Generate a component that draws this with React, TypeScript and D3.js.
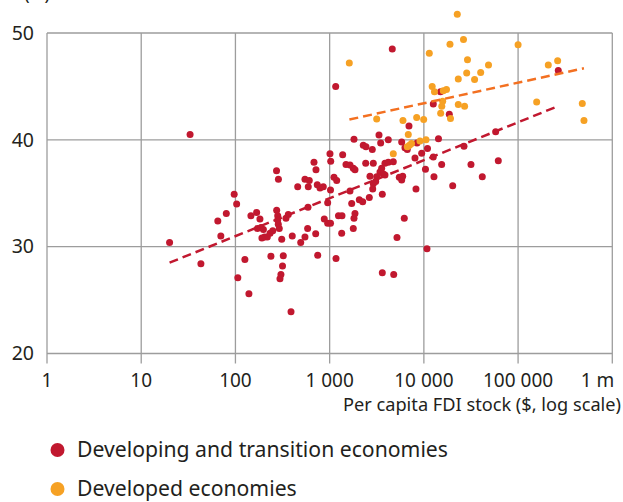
import React from 'react';
import * as d3 from 'd3';

// [per capita FDI stock ($), value (%)]
const developing: [number, number][] = [
  [20, 30.4], [33, 40.5], [43, 28.4], [65, 32.4], [80, 33.1], [70, 31.0], [97, 34.9], [103, 34.0],
  [126, 28.8], [106, 27.1], [139, 25.6], [146, 32.9], [168, 33.2], [171, 31.7], [187, 31.8], [198, 31.6],
  [182, 32.6], [204, 30.9], [218, 30.9], [191, 30.8], [233, 31.25], [249, 31.5], [273, 37.1], [286, 36.3],
  [274, 33.4], [281, 32.9], [281, 32.5], [292, 31.7], [285, 32.1], [344, 32.65], [364, 33.0], [310, 30.7],
  [401, 31.0], [238, 29.1], [322, 29.15], [316, 28.2], [304, 27.4], [297, 27.0], [389, 23.9], [458, 35.6],
  [547, 36.3], [608, 36.2], [593, 35.6], [739, 35.8], [790, 35.5], [856, 35.6], [682, 37.9], [716, 37.2],
  [1008, 38.7], [1026, 38.0], [1375, 38.6], [1491, 37.7], [1112, 36.5], [1188, 36.2], [1021, 35.3], [589, 33.7],
  [953, 34.1], [877, 32.6], [953, 32.2], [1021, 32.2], [1241, 32.9], [1352, 32.9], [584, 31.7], [547, 30.9],
  [493, 30.4], [711, 31.2], [1342, 31.25], [747, 29.2], [1168, 28.9], [1813, 40.05], [3340, 40.45], [3480, 39.7],
  [4193, 40.0], [5816, 39.8], [2275, 39.5], [2430, 39.35], [2835, 39.1], [6303, 39.26], [6668, 39.1], [8453, 39.7],
  [10928, 39.2], [14290, 40.1], [2413, 37.8], [2906, 37.8], [1644, 37.65], [1782, 37.35], [1857, 37.2], [3866, 37.8],
  [4193, 37.9], [4736, 37.95], [3566, 37.35], [3422, 37.0], [3710, 36.8], [8048, 38.3], [9480, 38.75], [12590, 38.4],
  [10400, 37.25], [12800, 36.55], [2680, 36.6], [3157, 36.55], [3866, 36.7], [5486, 36.5], [5816, 36.25], [5960, 36.6],
  [2906, 35.9], [2864, 35.4], [3081, 36.1], [8248, 35.4], [1644, 35.2], [3621, 34.9], [2635, 34.6], [2064, 34.4],
  [2243, 34.2], [1714, 34.05], [1857, 33.1], [1813, 32.65], [1782, 31.7], [6196, 32.65], [5185, 30.85], [10790, 29.8],
  [3621, 27.55], [4786, 27.4], [4620, 48.5], [1159, 45.0], [12590, 43.35], [15010, 44.5], [18620, 42.4], [6950, 41.3],
  [57810, 40.75], [267100, 46.5], [26660, 39.4], [61660, 38.05], [31620, 37.7], [41690, 36.55], [20230, 35.7], [15450, 37.7],
];

const developed: [number, number][] = [
  [22630, 51.75], [18930, 48.95], [26340, 49.4], [11420, 48.1], [1616, 47.2], [100000, 48.9], [29040, 47.5], [48530, 47.0],
  [40090, 46.3], [28480, 46.25], [23190, 45.7], [34530, 45.65], [209200, 47.0], [263000, 47.4], [12250, 45.0], [12960, 44.5],
  [16070, 44.6], [17380, 44.7], [15840, 43.6], [15490, 43.15], [15080, 42.5], [23190, 43.3], [27050, 43.15], [19170, 42.0],
  [157500, 43.55], [480200, 43.4], [500500, 41.8], [3157, 41.95], [6000, 41.8], [8390, 42.1], [9955, 41.9], [6834, 40.5],
  [7037, 39.5], [7390, 39.65], [6668, 39.35], [9095, 39.9], [10530, 40.0], [4736, 38.7],
];

const developingTrend: [number, number][] = [[20, 28.5], [257000, 43.1]];
const developedTrend: [number, number][] = [[1620, 41.9], [500000, 46.7]];

const xTicks = [1, 10, 100, 1000, 10000, 100000, 1000000];
const xTickLabels = ['1', '10', '100', '1 000', '10 000', '100 000', '1 m'];
const yTicks = [20, 30, 40, 50];
const xTitle = 'Per capita FDI stock ($, log scale)';
const yTitle = '(%)';
const seriesNames = ['Developing and transition economies', 'Developed economies'];

const RED = '#c1182f';
const ORANGE = '#f6a124';
const ORANGE_LINE = '#f37021';
const GRID = '#9d9d9d';
const TEXT = '#231f20';
const FONT = '"Noto Sans", sans-serif';

export default function App() {
  const left = 47, right = 612.3, top = 33, bottom = 353.5;
  const x = d3.scaleLog().domain([1, 1e6]).range([left, right]);
  const y = d3.scaleLinear().domain([20, 50]).range([bottom, top]);
  const line = d3.line<[number, number]>().x(d => x(d[0])).y(d => y(d[1]));

  return (
    <svg width={623} height={502} style={{ position: 'absolute', left: 0, top: 0, background: '#fff' }}
      fontFamily={FONT}>
      {/* grid */}
      {yTicks.map(t => (
        <line key={'gy' + t} x1={left} x2={right} y1={y(t)} y2={y(t)} stroke={GRID} strokeWidth={1.3} />
      ))}
      {xTicks.map(t => (
        <line key={'gx' + t} x1={x(t)} x2={x(t)} y1={top} y2={bottom + 10} stroke={GRID} strokeWidth={1.3} />
      ))}
      {/* y labels */}
      {yTicks.map(t => (
        <text key={'ly' + t} x={34} y={y(t)} dy="0.35em" textAnchor="end" fontSize={19.5} fill={TEXT}>{t}</text>
      ))}
      {/* x labels */}
      {xTicks.map((t, i) => (
        <text key={'lx' + t} x={i === xTicks.length - 1 ? x(t) + 2 : x(t)} y={387}
          textAnchor={i === xTicks.length - 1 ? 'end' : 'middle'} fontSize={19} fill={TEXT}>{xTickLabels[i]}</text>
      ))}
      <text x={621} y={411} textAnchor="end" fontSize={18.2} fill={TEXT}>{xTitle}</text>
      <text x={50} y={0} textAnchor="end" fontSize={18} fill={TEXT}>{yTitle}</text>
      {/* points */}
      {developing.map((d, i) => (
        <circle key={'r' + i} cx={x(d[0])} cy={y(d[1])} r={3.5} fill={RED} />
      ))}
      {developed.map((d, i) => (
        <circle key={'o' + i} cx={x(d[0])} cy={y(d[1])} r={3.5} fill={ORANGE} />
      ))}
      {/* trends */}
      <path d={line(developingTrend) || ''} fill="none" stroke={RED} strokeWidth={2.5} strokeDasharray="9 5" />
      <path d={line(developedTrend) || ''} fill="none" stroke={ORANGE_LINE} strokeWidth={2.5} strokeDasharray="9 5" />
      {/* legend */}
      {seriesNames.map((n, i) => (
        <g key={n} transform={`translate(57.5, ${450 + i * 39})`}>
          <circle r={7} fill={i === 0 ? RED : ORANGE} />
          <text x={19.5} y={0} dy="0.34em" fontSize={21.2} fill={TEXT}>{n}</text>
        </g>
      ))}
    </svg>
  );
}
